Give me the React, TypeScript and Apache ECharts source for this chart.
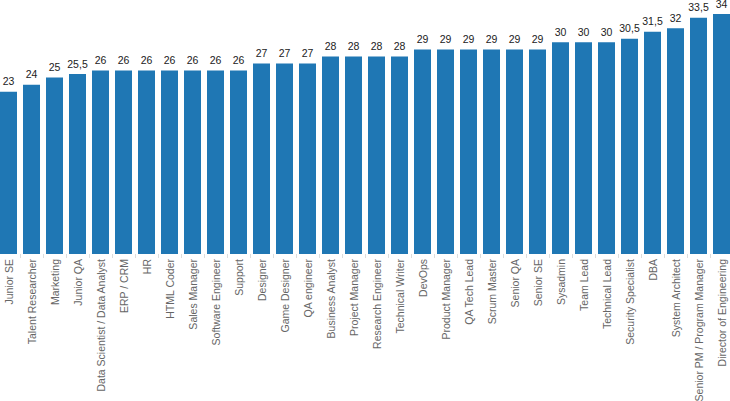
import React, { useEffect, useRef } from "react";
import * as echarts from "echarts";

const categories: string[] = [
  "Junior SE", "Talent Researcher", "Marketing", "Junior QA",
  "Data Scientist / Data Analyst", "ERP / CRM", "HR", "HTML Coder",
  "Sales Manager", "Software Engineer", "Support", "Designer",
  "Game Designer", "QA engineer", "Business Analyst", "Project Manager",
  "Research Engineer", "Technical Writer", "DevOps", "Product Manager",
  "QA Tech Lead", "Scrum Master", "Senior QA", "Senior SE",
  "Sysadmin", "Team Lead", "Technical Lead", "Security Specialist",
  "DBA", "System Architect", "Senior PM / Program Manager", "Director of Engineering",
];

const values: number[] = [
  23, 24, 25, 25.5,
  26, 26, 26, 26,
  26, 26, 26, 27,
  27, 27, 28, 28,
  28, 28, 29, 29,
  29, 29, 29, 29,
  30, 30, 30, 30.5,
  31.5, 32, 33.5, 34,
];

const FONT = "'Liberation Sans', Arial, sans-serif";

export default function App() {
  const ref = useRef<HTMLDivElement>(null);
  useEffect(() => {
    document.body.style.margin = "0";
    if (!ref.current) return;
    const chart = echarts.init(ref.current, null, { renderer: "svg" });
    chart.setOption({
      animation: false,
      textStyle: { fontFamily: FONT },
      grid: {
        left: -3,
        right: -3,
        top: 0,
        height: 254,
        containLabel: false,
        outerBoundsMode: "none",
      },
      xAxis: {
        type: "category",
        data: categories,
        axisLine: { show: false },
        axisTick: { show: true, length: 4, lineStyle: { color: "#dddddd" } },
        axisLabel: {
          rotate: 90,
          interval: 0,
          margin: 5,
          color: "#666666",
          fontSize: 10.5,
          fontFamily: FONT,
        },
      },
      yAxis: {
        type: "value",
        min: 0,
        max: 36,
        show: false,
        splitLine: { show: false },
      },
      series: [
        {
          type: "bar",
          data: values,
          barWidth: 17,
          itemStyle: { color: "#1f77b4" },
          label: {
            show: true,
            position: "top",
            distance: 5,
            color: "#222222",
            fontSize: 10.5,
            fontFamily: FONT,
            formatter: (p: any) => String(p.value).replace(".", ","),
          },
        },
      ],
    });
    return () => chart.dispose();
  }, []);
  return <div ref={ref} style={{ width: 730, height: 401 }} />;
}
